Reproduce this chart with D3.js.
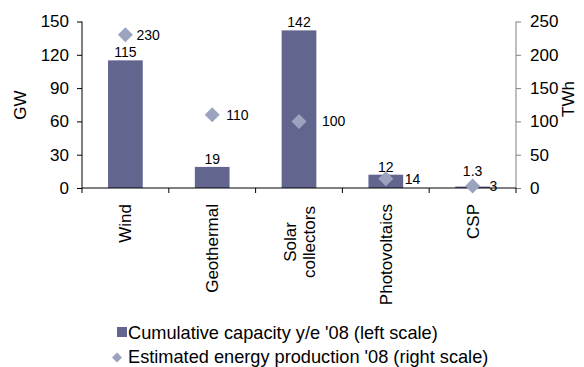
<!DOCTYPE html>
<html><head><meta charset="utf-8">
<script src="https://cdn.jsdelivr.net/npm/d3@7"></script>
<style>body{margin:0;background:#fff}svg{display:block}text{font-family:"Liberation Sans",Arial,sans-serif;fill:#000}</style>
</head><body><svg id="c" width="584" height="367"></svg>
<script>
const categories = [["Wind"], ["Geothermal"], ["Solar", "collectors"], ["Photovoltaics"], ["CSP"]];
const capacityGW = [115, 19, 142, 12, 1.3];
const capacityLabels = ["115", "19", "142", "12", "1.3"];
const energyTWh = [230, 110, 100, 14, 3];
const energyLabels = ["230", "110", "100", "14", "3"];
const leftTicks = [0, 30, 60, 90, 120, 150];
const rightTicks = [0, 50, 100, 150, 200, 250];
const legendLabels = ["Cumulative capacity y/e '08 (left scale)", "Estimated energy production '08 (right scale)"];
// label horizontal offsets (styling)
const energyLabelDx = [11, 14, 23, 19, 17];

const barColor = "#62668f", diamondColor = "#9ca3bf";
const svg = d3.select("#c");
const L = 82, R = 516, T = 21.5, B = 188;
const x = d3.scaleBand().domain(d3.range(categories.length)).range([L, R]).paddingInner(0.6).paddingOuter(0.3);
const yL = d3.scaleLinear().domain([0, 150]).range([B, T]);
const yR = d3.scaleLinear().domain([0, 250]).range([B, T]);
const cx = i => x(i) + x.bandwidth() / 2;

// bars
svg.selectAll("rect.bar").data(capacityGW).enter().append("rect")
  .attr("x", (d, i) => x(i)).attr("width", x.bandwidth())
  .attr("y", d => yL(d)).attr("height", d => B - yL(d)).attr("fill", barColor);

// bar labels
svg.selectAll("text.bl").data(capacityGW).enter().append("text")
  .attr("x", (d, i) => cx(i)).attr("y", d => Math.min(yL(d) - 3, B - 12))
  .attr("text-anchor", "middle").attr("font-size", 14).text((d, i) => capacityLabels[i]);

// axes
const fs = 17;
const la = svg.append("g").attr("transform", `translate(${L},0)`)
  .call(d3.axisLeft(yL).tickValues(leftTicks).tickSize(5).tickPadding(8));
la.select(".domain").attr("stroke", "#000").attr("d", `M0,${T}V${B}`);
la.selectAll("line").attr("stroke", "#000");
la.selectAll("text").attr("font-size", fs).attr("font-family", "Liberation Sans, Arial").attr("fill", "#000");

const ra = svg.append("g").attr("transform", `translate(${R},0)`)
  .call(d3.axisRight(yR).tickValues(rightTicks).tickSize(5).tickPadding(9));
ra.select(".domain").attr("stroke", "#808080").attr("d", `M0,${T}V${B}`);
ra.selectAll("line").attr("stroke", "#808080");
ra.selectAll("text").attr("font-size", fs).attr("font-family", "Liberation Sans, Arial").attr("fill", "#000");

// bottom axis with boundary ticks
const step = x.step();
const bounds = d3.range(categories.length + 1).map(i => L + i * step);
svg.append("line").attr("x1", L).attr("x2", R).attr("y1", B).attr("y2", B).attr("stroke", "#000");
svg.selectAll("line.bt").data(bounds).enter().append("line")
  .attr("x1", d => d).attr("x2", d => d).attr("y1", B).attr("y2", B + 5).attr("stroke", "#000");

// category labels
categories.forEach((lines, i) => {
  const g = svg.append("g").attr("transform", `translate(${cx(i)},204) rotate(-90)`);
  const lh = 19;
  const t = g.append("text").attr("font-size", fs)
    .attr("text-anchor", lines.length > 1 ? "middle" : "end");
  const maxOff = lines.length > 1 ? -38 : 0;
  lines.forEach((s, j) => {
    t.append("tspan").attr("x", maxOff).attr("y", (j - (lines.length - 1) / 2) * lh + 6).text(s);
  });
});

// diamonds
const dsz = 7.5;
const dpath = (r) => `M0,${-r}L${r},0L0,${r}L${-r},0Z`;
svg.selectAll("path.dm").data(energyTWh).enter().append("path")
  .attr("transform", (d, i) => `translate(${cx(i)},${yR(d)})`).attr("d", dpath(dsz)).attr("fill", diamondColor);
svg.selectAll("text.dl").data(energyTWh).enter().append("text")
  .attr("x", (d, i) => cx(i) + energyLabelDx[i]).attr("y", d => yR(d) + 5)
  .attr("font-size", 14).text((d, i) => energyLabels[i]);

// axis titles
svg.append("text").attr("transform", "translate(26,105) rotate(-90)").attr("text-anchor", "middle")
  .attr("font-size", fs).text("GW");
svg.append("text").attr("transform", "translate(574,99) rotate(-90)").attr("text-anchor", "middle")
  .attr("font-size", fs).text("TWh");

// legend
svg.append("rect").attr("x", 117).attr("y", 327).attr("width", 10).attr("height", 10).attr("fill", barColor);
svg.append("text").attr("x", 128).attr("y", 338.5).attr("font-size", 18.2).text(legendLabels[0]);
svg.append("path").attr("transform", "translate(117,357.5)").attr("d", dpath(5)).attr("fill", diamondColor);
svg.append("text").attr("x", 128).attr("y", 363).attr("font-size", 18.2).text(legendLabels[1]);
</script></body></html>
